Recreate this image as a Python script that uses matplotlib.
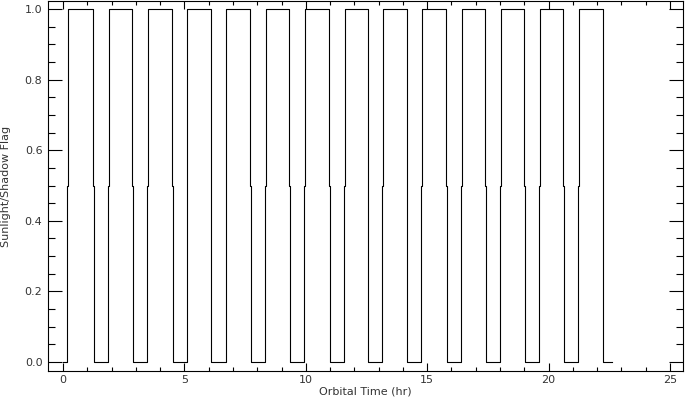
import numpy as np
import matplotlib
matplotlib.use('Agg')
import matplotlib.pyplot as plt
from matplotlib.ticker import MultipleLocator

# eclipse (shadow) entry and exit times, hours
shadow_start = [1.25, 2.85, 4.50, 6.08, 7.70, 9.32, 10.97, 12.55, 14.16, 15.77, 17.38, 18.99, 20.61, 22.23]
shadow_end = [1.87, 3.45, 5.09, 6.70, 8.32, 9.94, 11.57, 13.15, 14.74, 16.39, 18.00, 19.60, 21.22]
first_sunrise = 0.21
t_begin = 0.0
t_end = 22.60
penumbra = 0.03  # short half-lit step at each crossing

# build the flag series (0 shadow, 0.5 penumbra, 1 sunlight)
times = [t_begin, first_sunrise - penumbra, first_sunrise]
flags = [0.0, 0.5, 1.0]
for i, ts in enumerate(shadow_start):
    times += [ts, ts + penumbra]
    flags += [0.5, 0.0]
    if i < len(shadow_end):
        te = shadow_end[i]
        times += [te, te + penumbra]
        flags += [0.5, 1.0]
times.append(t_end)
flags.append(0.0)

fig = plt.figure(figsize=(6.85, 3.98), dpi=100)
ax = fig.add_axes([48/685, 1 - 371/398, 635/685, 370/398])

ax.plot(times, flags, drawstyle='steps-post', color='k', lw=0.8)

ax.set_xlim(-0.62, 25.54)
ax.set_ylim(-0.0255, 1.0227)

ax.xaxis.set_major_locator(MultipleLocator(5))
ax.xaxis.set_minor_locator(MultipleLocator(1))
ax.yaxis.set_major_locator(MultipleLocator(0.2))
ax.yaxis.set_minor_locator(MultipleLocator(0.05))
ax.yaxis.set_major_formatter(matplotlib.ticker.FormatStrFormatter('%.1f'))

ax.tick_params(axis='both', which='both', direction='in', top=True, right=True,
               colors='k', labelcolor='#333333', labelsize=8, width=0.8)
ax.tick_params(axis='x', which='major', length=5.5, pad=3)
ax.tick_params(axis='x', which='minor', length=3)
ax.tick_params(axis='y', which='major', length=10, pad=4)
ax.tick_params(axis='y', which='minor', length=5)

for s in ax.spines.values():
    s.set_linewidth(0.8)

fig.text(365/685, 1 - 391/398, 'Orbital Time (hr)', fontsize=8, color='#333333',
         ha='center', va='center')
ax.set_ylabel('Sunlight/Shadow Flag', fontsize=8, color='#333333', labelpad=10)

plt.savefig('out.png', dpi=100)
